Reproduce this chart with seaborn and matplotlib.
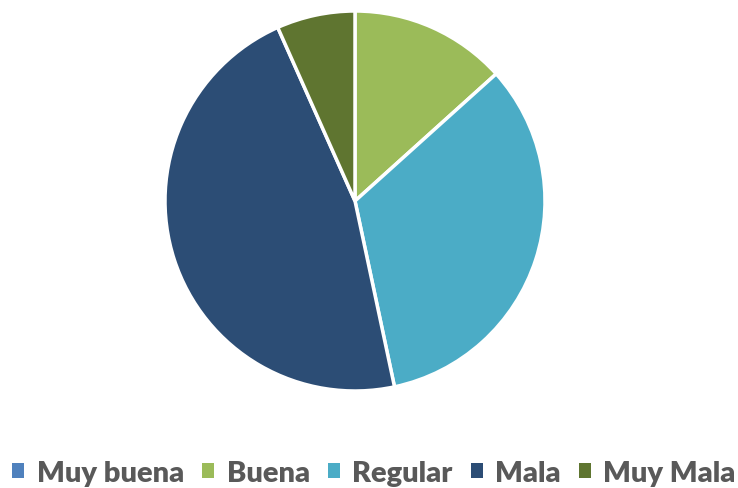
import matplotlib
matplotlib.use("Agg")
import matplotlib.pyplot as plt
import seaborn as sns
from matplotlib.patches import Patch

categories = ['Muy buena', 'Buena', 'Regular', 'Mala', 'Muy Mala']
counts = [0, 2, 5, 7, 1]
colors = ['#4F81BD', '#9BBB59', '#4BACC6', '#2C4D75', '#5F7530']

sns.set_theme(style='white')
plt.rcParams['font.family'] = ['Lato', 'DejaVu Sans']

fig = plt.figure(figsize=(7.38, 4.89), dpi=100)
ax = fig.add_axes([165 / 738, 97 / 489, 380 / 738, 380 / 489])
pal = sns.color_palette(colors)

ax.pie(counts, colors=pal, startangle=90, counterclock=False,
       wedgeprops=dict(edgecolor='white', linewidth=2.5))
ax.set_xlim(-1, 1)
ax.set_ylim(-1, 1)
ax.set_aspect('equal')
ax.axis('off')

handles = [Patch(facecolor=c, edgecolor='none') for c in pal]
fig.legend(handles, categories, loc='center', bbox_to_anchor=(374 / 738, 1 - 474 / 489),
           ncol=5, frameon=False, handlelength=0.42, handleheight=0.42,
           handletextpad=0.42, columnspacing=0.62, borderpad=0, borderaxespad=0,
           prop=dict(size=21, weight='heavy'), labelcolor='#595959')

fig.savefig('out.png', dpi=100)
